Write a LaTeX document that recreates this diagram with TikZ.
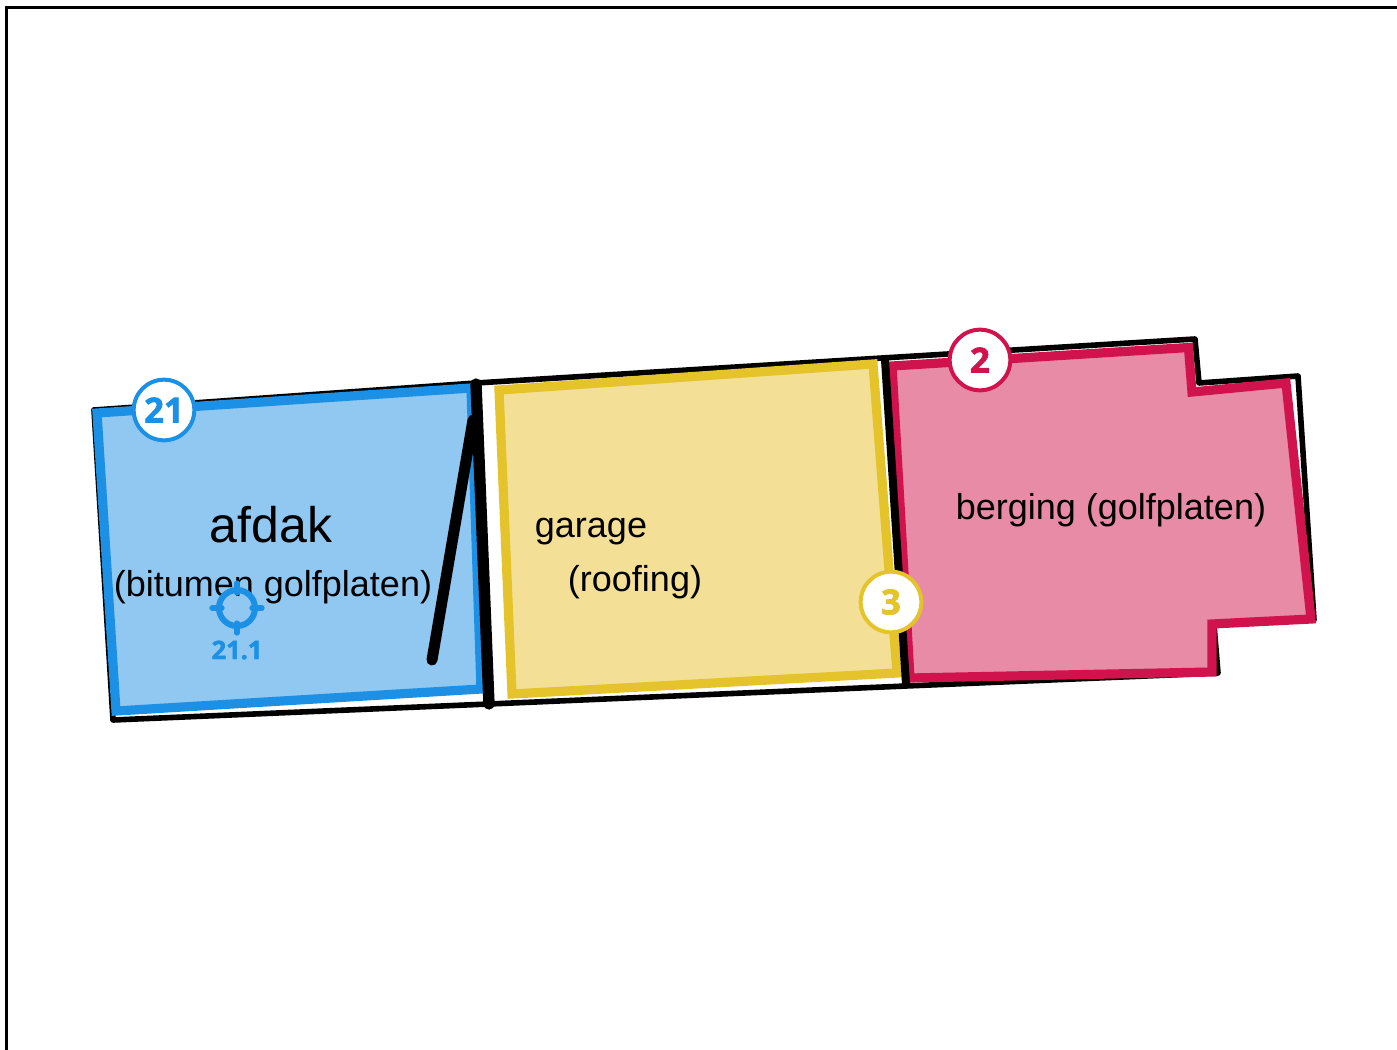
\documentclass[tikz,border=0pt]{standalone}
\usepackage{fontspec}
\setmainfont{Liberation Sans}
\newfontfamily\badge[BoldFeatures={FakeBold=1.8}]{Open Sans}
\definecolor{bluec}{HTML}{1B90E4}
\definecolor{bluef}{HTML}{90C8F1}
\definecolor{yelc}{HTML}{E5C32B}
\definecolor{yelf}{HTML}{F3E096}
\definecolor{redc}{HTML}{D0134C}
\definecolor{redf}{HTML}{E78BA6}
\tikzset{
 wall/.style={draw=black,line width=4.2pt,line cap=round,line join=round},
 wallthick/.style={draw=black,line cap=round},
 room/.style={line width=6.9pt,line join=miter},
 badgec/.style={circle,fill=white,line width=3pt,minimum size=45.5pt,inner sep=0,font=\badge\bfseries\fontsize{26}{26}\selectfont},
 lbl/.style={text=black,inner sep=0},
 tick/.style={draw=bluec,line width=3.9pt,line cap=round}
}
\begin{document}
\begin{tikzpicture}[x=0.75pt,y=-0.75pt]
\useasboundingbox (0,0) rectangle (1397,1050);
\fill[white] (0,0) rectangle (1397,1050);
\draw[black,line width=2.25pt] (6,1060) -- (6,7) -- (1407,7);
% outer walls
\draw[wall] (94,410) -- (476,383) -- (882,358) -- (1195,339) -- (1199,383) -- (1298,376) -- (1314,620);
\draw[wall] (94,410) -- (113,720) -- (489,704) -- (906,686) -- (1218,673) -- (1214,625);
% rooms
\path[room,draw=bluec,fill=bluef] (97,413) -- (471,388) -- (481,689) -- (116,711) -- cycle;
\path[room,draw=yelc,fill=yelf] (499,390) -- (873,364) -- (897,673) -- (512,694) -- cycle;
\path[room,draw=redc,fill=redf] (892,366) -- (1188.5,347.5) -- (1192,392) -- (1286,383) -- (1311,619) -- (1212,624) -- (1212,672) -- (910,678) -- cycle;
% interior walls
\draw[wallthick,line width=8.5pt] (476,384) -- (489,704);
\draw[wallthick,line width=6pt] (885,360) -- (906,684);
\draw[wallthick,line width=8.25pt] (473,420) -- (432,660);
% labels
\node[lbl,font=\fontsize{37.5}{37.5}\selectfont] (afdak) at (271,525) {afdak};
\node[lbl,font=\fontsize{27}{27}\selectfont] (bit) at (273,587) {(bitumen golfplaten)};
\node[lbl,font=\fontsize{27}{27}\selectfont] (gar) at (591,532) {garage};
\node[lbl,font=\fontsize{27}{27}\selectfont] (roof) at (635,582) {(roofing)};
\node[lbl,font=\fontsize{27}{27}\selectfont] (berg) at (1111,510) {berging (golfplaten)};
% badges
\node[badgec,draw=bluec,text=bluec] (b21) at (164,410) {21};
\node[badgec,draw=redc,text=redc] (b2) at (980,360) {2};
\node[badgec,draw=yelc,text=yelc] (b3) at (891,602) {3};
% target
\node[circle,draw=bluec,line width=4.5pt,minimum size=27pt,inner sep=0] (tg) at (237,608) {};
\draw[tick] (tg.north) ++(0,-4) -- ++(0,10);
\draw[tick] (tg.south) ++(0,-6) -- ++(0,10);
\draw[tick] (tg.west) ++(-4,0) -- ++(10,0);
\draw[tick] (tg.east) ++(-6,0) -- ++(10,0);
\node[lbl,text=bluec,font=\badge\bfseries\fontsize{19}{19}\selectfont] (tl) at (237,650) {21.1};
\end{tikzpicture}
\end{document}
